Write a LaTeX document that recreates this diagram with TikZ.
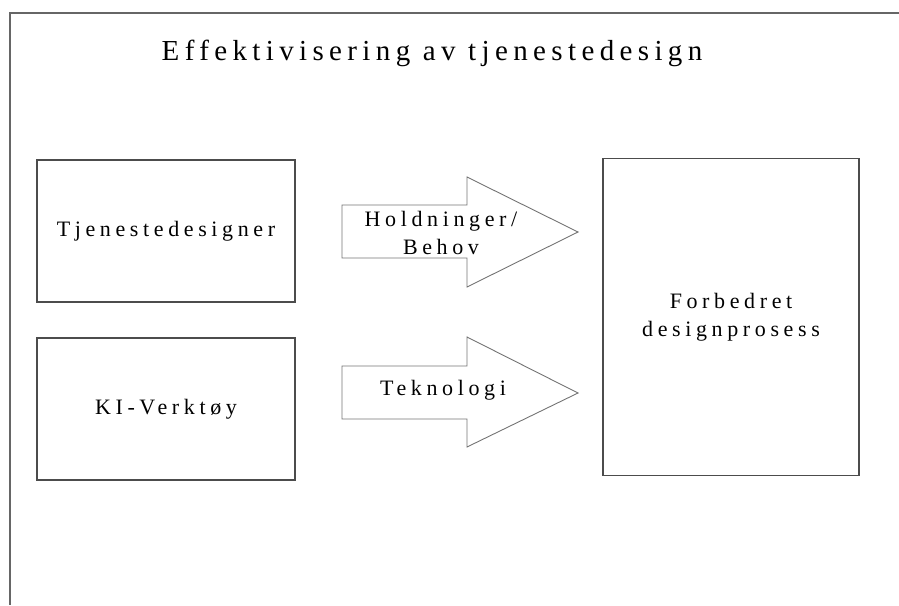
\documentclass[tikz,border=0pt]{standalone}
\usepackage{fontspec}
\setmainfont{Liberation Serif}
\newfontfamily\spaced[LetterSpace=21]{Liberation Serif}
\newfontfamily\titlespaced[LetterSpace=18.5]{Liberation Serif}
\usepackage{tikz}
\usetikzlibrary{positioning}
\usepackage{xcolor}

\tikzset{
    frameline/.style={draw=black!60, line width=1.3pt},
    box/.style={draw=black!70, line width=1.3pt, align=center,
        font=\spaced\fontsize{22}{28}\selectfont},
    arrowshape/.style={draw=black!55, line width=0.9pt},
    arrowtext/.style={align=center, font=\spaced\fontsize{22}{28}\selectfont},
}

\begin{document}
\begin{tikzpicture}[x=1pt,y=-1pt]
        \useasboundingbox (0,0) rectangle (899,605);
        \draw[frameline] (899,13) -- (10,13) -- (10,605);

        \node[font=\titlespaced\fontsize{29}{34}\selectfont] (title) at (432,53) {Effektivisering av tjenestedesign};

        \node[box, minimum width=258pt, minimum height=142pt] (designer) at (166,231) {Tjenestedesigner};
        \node[box, minimum width=258pt, minimum height=142pt] (ki) at (166,409) {KI-Verktøy};
        \node[box, minimum width=256pt, minimum height=317pt] (prosess) at (731,317) {Forbedret\\designprosess};

        % pilene
        \draw[arrowshape] (342,205) -- (467,205) -- (467,177) -- (578,232) -- (467,287) -- (467,258) -- (342,258) -- cycle;
        \draw[arrowshape] (342,366) -- (467,366) -- (467,337) -- (578,393) -- (467,447) -- (467,419) -- (342,419) -- cycle;

        \node[arrowtext] (holdninger) at (441,233) {Holdninger/\\Behov};
        \node[arrowtext] (teknologi) at (443,390) {Teknologi};
    \end{tikzpicture}
\end{document}
